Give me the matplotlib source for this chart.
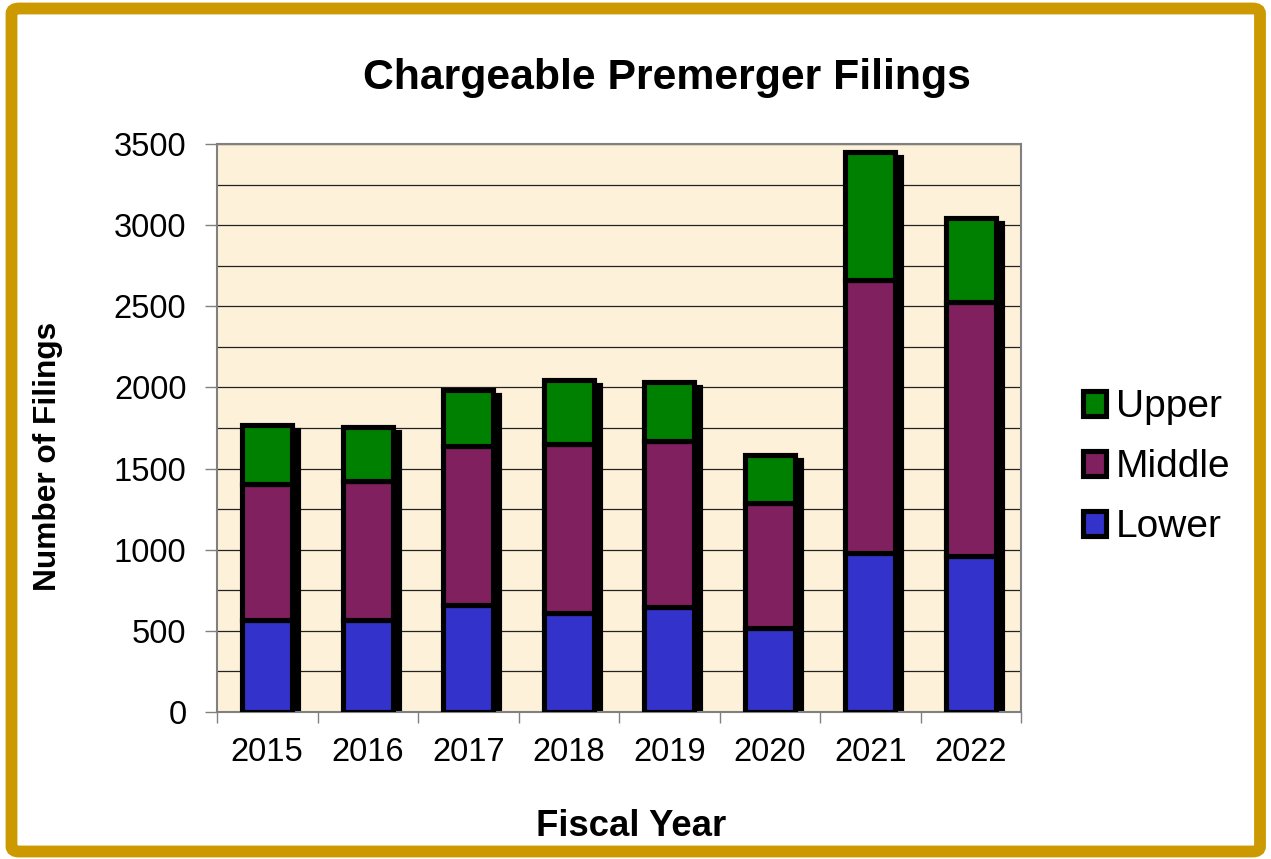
import numpy as np
import matplotlib
matplotlib.use('Agg')
import matplotlib.pyplot as plt
from matplotlib import transforms
from matplotlib.patches import FancyBboxPatch

plt.rcParams['font.family'] = ['Liberation Sans', 'DejaVu Sans']

# data
years = ['2015', '2016', '2017', '2018', '2019', '2020', '2021', '2022']
lower = [568, 564, 662, 613, 645, 518, 979, 961]
middle = [837, 858, 975, 1041, 1025, 767, 1683, 1563]
upper = [361, 332, 349, 394, 363, 300, 790, 518]

c_lower = '#3333cc'
c_middle = '#80205f'
c_upper = '#008000'

fig = plt.figure(figsize=(12.71, 8.59), dpi=100)
fig.patch.set_facecolor('white')

# gold frame round the whole picture
W, H = 1271, 859
frame = FancyBboxPatch((11.5 / W, 1 - 851.5 / H), (1260 - 11.5) / W, (851.5 - 8.5) / H,
                       boxstyle='round,pad=0,rounding_size=0.006',
                       transform=fig.transFigure, facecolor='none',
                       edgecolor='#cc9900', linewidth=8.5, zorder=10)
fig.patches.append(frame)

ax = fig.add_axes([217 / W, 1 - 712 / H, (1021 - 217) / W, (712 - 144) / H])
ax.set_facecolor('#fdf1da')

x = np.arange(len(years))
lower = np.array(lower)
middle = np.array(middle)
upper = np.array(upper)
total = lower + middle + upper
bw = 0.5
elw = 3.7

# drop shadow
shadow = transforms.offset_copy(ax.transData, fig=fig, x=6, y=-5, units='dots')
ax.bar(x, total, bw, color='black', edgecolor='black', linewidth=elw,
       transform=shadow, zorder=2)

ax.bar(x, lower, bw, color=c_lower, edgecolor='black', linewidth=elw,
       label='Lower', zorder=3)
ax.bar(x, middle, bw, bottom=lower, color=c_middle, edgecolor='black',
       linewidth=elw, label='Middle', zorder=3)
ax.bar(x, upper, bw, bottom=lower + middle, color=c_upper, edgecolor='black',
       linewidth=elw, label='Upper', zorder=3)

ax.set_xlim(-0.5, len(years) - 0.5)
ax.set_ylim(0, 3500)
ax.set_yticks(np.arange(0, 3501, 500))
ax.set_yticks(np.arange(0, 3501, 250), minor=True)
ax.grid(True, axis='y', which='both', color='#222222', linewidth=0.9, zorder=0)
ax.set_axisbelow(True)

ax.set_xticks(x)
ax.set_xticklabels(years)
ax.set_xticks(np.arange(-0.5, len(years)), minor=True)

ax.tick_params(axis='y', which='major', length=9, width=1, color='#808080',
               labelsize=23.5, pad=13)
ax.tick_params(axis='y', which='minor', length=0)
ax.tick_params(axis='x', which='major', length=0, labelsize=23.5, pad=18)
ax.tick_params(axis='x', which='minor', length=8, width=1, color='#808080')

for s in ax.spines.values():
    s.set_color('#808080')
    s.set_linewidth(1.5)

fig.text(667 / W, 1 - 78 / H, 'Chargeable Premerger Filings', ha='center',
         va='center', fontsize=30.8, fontweight='bold')
fig.text(631 / W, 1 - 827 / H, 'Fiscal Year', ha='center', va='center',
         fontsize=26.3, fontweight='bold')
fig.text(48 / W, 1 - 456 / H, 'Number of Filings', ha='center', va='center',
         rotation=90, fontsize=22.8, fontweight='bold')

h, l = ax.get_legend_handles_labels()
fig.legend(h[::-1], l[::-1], loc='center left',
           bbox_to_anchor=(1083 / W, 1 - 467 / H), frameon=False,
           fontsize=28, handlelength=0.6, handleheight=0.6,
           handletextpad=0.25, labelspacing=0.62, borderpad=0,
           borderaxespad=0)

fig.savefig('out.png', dpi=100, facecolor='white')
